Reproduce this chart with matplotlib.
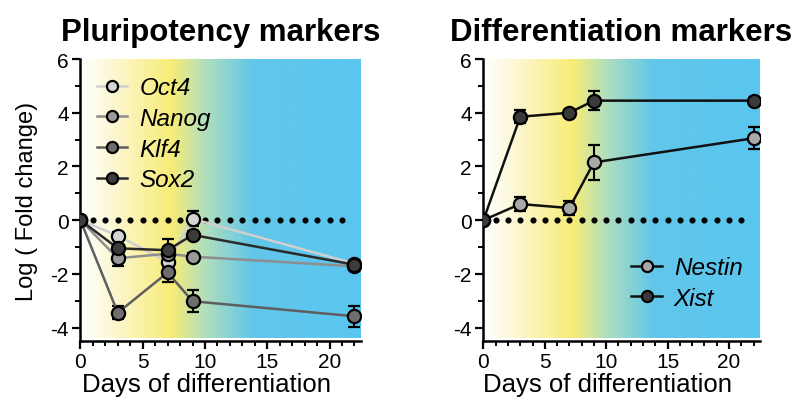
import matplotlib

matplotlib.use("Agg")
import matplotlib.pyplot as plt
import numpy as np
from matplotlib.colors import LinearSegmentedColormap
from matplotlib.ticker import MultipleLocator

plt.rcParams["font.family"] = ["Liberation Sans", "DejaVu Sans"]
plt.rcParams["axes.unicode_minus"] = False

DAYS = [0, 3, 7, 9, 22]

# pluripotency markers: mean and SEM of log fold change
PLURI_GENES = ["Oct4", "Nanog", "Klf4", "Sox2"]
PLURI_MEAN = {
    "Oct4": [0, -0.58, -1.55, 0.05, -1.62],
    "Nanog": [0, -1.42, -1.25, -1.36, -1.72],
    "Klf4": [0, -3.45, -1.95, -3.02, -3.58],
    "Sox2": [0, -1.05, -1.12, -0.55, -1.66],
}
PLURI_SEM = {
    "Oct4": [0, 0.12, 0.15, 0.28, 0.10],
    "Nanog": [0, 0.28, 0.15, 0.12, 0.10],
    "Klf4": [0, 0.25, 0.35, 0.40, 0.40],
    "Sox2": [0, 0.15, 0.40, 0.15, 0.10],
}

# differentiation markers
DIFF_GENES = ["Nestin", "Xist"]
DIFF_MEAN = {
    "Nestin": [0, 0.60, 0.45, 2.15, 3.05],
    "Xist": [0, 3.85, 4.00, 4.45, 4.45],
}
DIFF_SEM = {
    "Nestin": [0, 0.25, 0.25, 0.65, 0.40],
    "Xist": [0, 0.25, 0.10, 0.35, 0.10],
}

FILL = {"Oct4": "#d4d4d4", "Nanog": "#9a9a9a", "Klf4": "#6e6e6e", "Sox2": "#3c3c3c",
        "Nestin": "#a8a8a8", "Xist": "#3a3a3a"}
LINE = {"Oct4": "#d0d0d0", "Nanog": "#8e8e8e", "Klf4": "#5e5e5e", "Sox2": "#2a2a2a",
        "Nestin": "#111111", "Xist": "#111111"}

XMAX = 22.5
YMIN, YMAX = -4.5, 6

# white -> yellow -> teal -> sky blue across the time course
BG = LinearSegmentedColormap.from_list("bg", [
    (0.0, "#ffffff"),
    (3 / XMAX, "#fcf6cc"),
    (7.3 / XMAX, "#f8ec76"),
    (10 / XMAX, "#b2dfbc"),
    (13.8 / XMAX, "#62c6ea"),
    (1.0, "#5ac6f0"),
])


def style_axes(ax, title):
    grad = np.linspace(0, 1, 512)[None, :]
    ax.imshow(grad, aspect="auto", cmap=BG, extent=(0, XMAX, YMIN + 0.12, YMAX + 0.1),
              zorder=0, interpolation="bilinear")
    ax.set_xlim(-0.05, XMAX)
    ax.set_ylim(YMIN, YMAX)
    ax.plot(np.arange(1, 22), np.zeros(21), ls="none", marker="o", ms=3.4,
            color="black", zorder=2)
    ax.xaxis.set_major_locator(MultipleLocator(5))
    ax.xaxis.set_minor_locator(MultipleLocator(1))
    ax.yaxis.set_major_locator(MultipleLocator(2))
    ax.yaxis.set_minor_locator(MultipleLocator(1))
    ax.tick_params(which="major", length=5.5, width=1.6, labelsize=15, pad=2.5)
    ax.tick_params(which="minor", length=3.5, width=1.4)
    for s in ("top", "right"):
        ax.spines[s].set_visible(False)
    for s in ("left", "bottom"):
        ax.spines[s].set_linewidth(1.8)
    ax.set_xlabel("Days of differentiation", fontsize=18.5, labelpad=1)
    ax.xaxis.label.set_x(0.45)
    ax.set_title(title, fontsize=22.5, fontweight="bold", pad=14)


def draw_series(ax, genes, means, sems):
    for g in genes:
        ax.errorbar(DAYS, means[g], yerr=sems[g], color=LINE[g], lw=1.8,
                    marker="o", ms=9.5, mfc=FILL[g], mec="black", mew=1.6,
                    ecolor="black", elinewidth=1.5, capsize=4, capthick=1.5,
                    label=g, zorder=3)


fig = plt.figure(figsize=(7.98, 4.14), dpi=100)
ax1 = fig.add_axes([0.100, 0.174, 0.352, 0.681])
ax2 = fig.add_axes([0.605, 0.174, 0.347, 0.681])

style_axes(ax1, "Pluripotency markers")
style_axes(ax2, "Differentiation markers")
draw_series(ax1, PLURI_GENES, PLURI_MEAN, PLURI_SEM)
draw_series(ax2, DIFF_GENES, DIFF_MEAN, DIFF_SEM)

ax1.set_ylabel("Log ( Fold change)", fontsize=17, labelpad=9)

leg_kw = dict(frameon=False, prop={"style": "italic", "size": 17.5},
              handlelength=1.25, handletextpad=0.5, labelspacing=0.32, borderaxespad=0.3)
h, l = ax1.get_legend_handles_labels()
leg1 = ax1.legend([x[0] for x in h], l, loc="upper left", **leg_kw)
h, l = ax2.get_legend_handles_labels()
leg2 = ax2.legend([x[0] for x in h], l, loc="lower right", bbox_to_anchor=(1.0, 0.05), **leg_kw)
for leg in (leg1, leg2):
    for hd in leg.legend_handles:
        hd.set_markersize(8)

fig.savefig("out.png", dpi=100)
